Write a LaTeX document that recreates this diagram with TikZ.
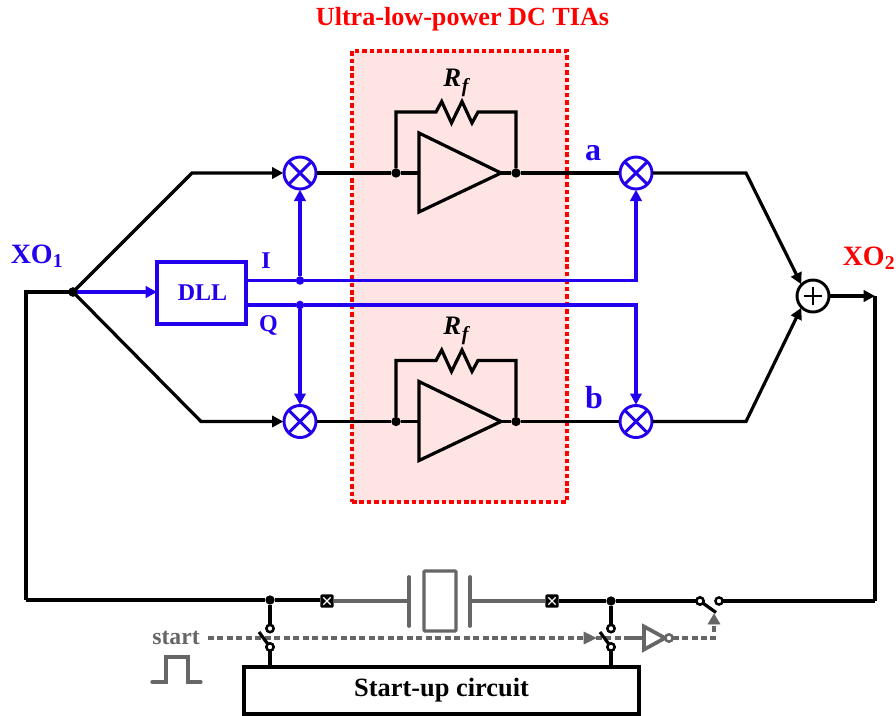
\documentclass[tikz,border=0pt]{standalone}
\usepackage{fontspec}
\setmainfont{Liberation Serif}
\usetikzlibrary{arrows.meta}
\definecolor{cblue}{HTML}{2200EE}
\definecolor{cred}{HTML}{FF0000}
\definecolor{cgray}{HTML}{666666}
\definecolor{cpink}{HTML}{FFE4E4}
\tikzset{
  wire/.style={line width=2.4pt,black,line join=miter},
  bwire/.style={line width=2.4pt,cblue},
  gwire/.style={line width=2.4pt,cgray},
  gdash/.style={line width=2.4pt,cgray,dash pattern=on 4.5pt off 2.6pt},
  tip/.style={-{Triangle[length=8.5pt,width=8.5pt]}},
  mixer/.style={circle,draw=cblue,line width=2.2pt,minimum size=24pt,inner sep=0pt,outer sep=0.5pt,fill=white,
    path picture={\draw[cblue,line width=2.2pt] (path picture bounding box.north west)--(path picture bounding box.south east)
      (path picture bounding box.north east)--(path picture bounding box.south west);}},
  adder/.style={circle,draw=black,line width=2.2pt,minimum size=24pt,inner sep=0pt,outer sep=0.5pt,fill=white,
    path picture={\draw[black,line width=1.5pt] ([xshift=-7pt]path picture bounding box.center)--([xshift=7pt]path picture bounding box.center)
      ([yshift=-7pt]path picture bounding box.center)--([yshift=7pt]path picture bounding box.center);}},
  dot/.style={circle,fill=black,minimum size=7pt,inner sep=0pt,outer sep=0pt},
  bdot/.style={circle,fill=cblue,minimum size=6.4pt,inner sep=0pt,outer sep=0pt},
  pin/.style={circle,draw=black,fill=white,line width=1.8pt,minimum size=5.4pt,inner sep=0pt,outer sep=0pt},
  gpin/.style={circle,draw=cgray,fill=white,line width=1.8pt,minimum size=5.4pt,inner sep=0pt,outer sep=0pt},
  term/.style={rectangle,rounded corners=1pt,fill=black,minimum size=10pt,inner sep=0pt,outer sep=0pt,
    path picture={\draw[white,line width=0.9pt] ([shift={(-2.8pt,-2.8pt)}]path picture bounding box.center)--([shift={(2.8pt,2.8pt)}]path picture bounding box.center)
      ([shift={(-2.8pt,2.8pt)}]path picture bounding box.center)--([shift={(2.8pt,-2.8pt)}]path picture bounding box.center);}},
  bluebox/.style={rectangle,draw=cblue,line width=2.4pt,inner sep=0pt,outer sep=0pt,text=cblue,font=\fontsize{18}{20}\selectfont\bfseries},
  bluelabel/.style={inner sep=0pt,text=cblue,font=\fontsize{18}{20}\selectfont\bfseries},
  biglabel/.style={inner sep=0pt,text=cblue,font=\fontsize{24}{26}\selectfont\bfseries},
  xolabel/.style={inner sep=0pt,font=\fontsize{21}{24}\selectfont\bfseries},
  rflabel/.style={inner sep=0pt,font=\fontsize{20}{22}\selectfont\bfseries\itshape},
}
\newcommand{\rfsub}{R\kern0.5pt\raisebox{-4pt}{\fontsize{15}{16}\selectfont f}}
\begin{document}
\begin{tikzpicture}[x=0.75pt,y=-0.75pt]
\useasboundingbox (0,0) rectangle (896,715);
% TIA region
\node[rectangle,draw=cred,fill=cpink,line width=2.4pt,dash pattern=on 3.4pt off 2.2pt,minimum width=161.25pt,minimum height=338.25pt,inner sep=0pt] (tia) at (459.5,276.5) {};
\node[inner sep=0pt,text=cred,font=\fontsize{19.6}{22}\selectfont\bfseries] (tiat) at (462.5,19) {Ultra-low-power DC TIAs};

% key nodes
\node[dot] (xo1) at (73,292) {};
\node[mixer] (m1) at (300,173) {};
\node[mixer] (m2) at (636,173) {};
\node[mixer] (m3) at (300,421.5) {};
\node[mixer] (m4) at (636,421.5) {};
\node[adder] (sum) at (813,296) {};
\node[bluebox,minimum width=66.75pt,minimum height=46.5pt,text width=66.75pt,align=center] (dll) at (201.5,293) {\hspace{1.5pt}DLL};

\coordinate (xl) at (26,292);
\coordinate (xb) at (26,600);
\coordinate (u1) at (192,173);
\coordinate (l1) at (201,421.5);
\coordinate (u2) at (746,173);
\coordinate (l2) at (746,421.5);
\coordinate (r1) at (875,296);
\coordinate (rb) at (875,601);

% input branches
\draw[wire] (xb)--(xl)--(xo1.center);
\draw[wire,tip] (xo1.center)--(u1)--(m1.west);
\draw[wire,tip] (xo1.center)--(l1)--(m3.west);
\draw[bwire,tip] (xo1.center)--(xo1 -| dll.west);
\node[dot] at (xo1) {};

% I / Q
\coordinate (ii) at (246,280.5);
\coordinate (iq) at (246,305);
\coordinate (ic) at (636,280.5);
\coordinate (qc) at (636,305);
\node[bdot] (di) at (300,280.5) {};
\node[bdot] (dq) at (300,305) {};
\draw[bwire] (ii)--(di);
\draw[bwire] (iq)--(dq);
\draw[bwire,tip] (di)--(ic)--(m2.south);
\draw[bwire,tip] (dq)--(qc)--(m4.north);
\draw[bwire,tip] (di)--(m1.south);
\draw[bwire,tip] (dq)--(m3.north);

% amplifiers
\foreach \n/\y/\ya/\yb/\yf in {1/173/133/212/112,2/421.5/381.5/460.5/360.5}{
  \coordinate (ai\n) at (419,\y);
  \coordinate (ao\n) at (501,\y);
  \coordinate (at\n) at (419,\ya);
  \coordinate (ab\n) at (419,\yb);
  \node[dot] (din\n) at (396,\y) {};
  \node[dot] (dout\n) at (516,\y) {};
  \draw[wire] (ao\n)--(at\n)--(ab\n)--cycle;
  \draw[wire] (din\n)--(396,\yf)--(428,\yf)--(436,\yf)--(441.7,\yf-10.5)--(451.5,\yf+11)--(462,\yf-10.5)--(472,\yf+11)--(478,\yf)--(516,\yf)--(dout\n);
  \draw[wire] (din\n)--(ai\n);
  \draw[wire] (ao\n)--(dout\n);
}
\draw[wire] (m1.east)--(din1);
\draw[wire] (m3.east)--(din2);
\draw[wire] (dout1)--(m2.west);
\draw[wire] (dout2)--(m4.west);

% output
\draw[wire,tip] (m2.east)--(u2)--(sum.north west);
\draw[wire,tip] (m4.east)--(l2)--(sum.south west);
\draw[wire,tip] (sum.east)--(r1);
\draw[wire] (r1)--(rb);

% bottom line
\node[dot] (j1) at (270,600) {};
\node[dot] (j2) at (611,601) {};
\node[term] (t1) at (327,601) {};
\node[term] (t2) at (552,601) {};
\node[pin] (s3a) at (700,601) {};
\node[pin] (s3b) at (719,601) {};
\coordinate (p1) at (409,601);
\coordinate (p2) at (470,601);
\draw[wire] (xb)--(j1);
\draw[wire] (j1)--(j1 -| t1.west);
\draw[wire] (t2)--(j2);
\draw[wire] (j2)--(s3a);
\draw[wire] (s3b)--(rb);
\draw[gwire] (t1)--(p1);
\draw[gwire] (p2)--(t2);
\draw[gwire,line width=2.8pt,line cap=round] (409,577)--(409,626);
\draw[gwire,line width=2.8pt,line cap=round] (470,577)--(470,626);
\node[rectangle,draw=cgray,line width=2.5pt,rounded corners=0.8pt,minimum width=24pt,minimum height=45pt,inner sep=0pt] (xtal) at (440,601) {};

% start-up box
\node[rectangle,draw=black,line width=2.4pt,minimum width=296.25pt,minimum height=35.25pt,inner sep=0pt,outer sep=0pt,font=\fontsize{19.8}{22}\selectfont\bfseries] (su) at (441.5,690.5) {Start-up circuit};

% start dashed line
\coordinate (ds) at (208,638);
\coordinate (dk) at (714,638);
\node[gpin] (invb) at (669,638) {};
\coordinate (invi) at (644,638);
\coordinate (invt) at (644,626.5);
\coordinate (invd) at (644,649.5);
\coordinate (invo) at (665,638);
\draw[gdash] (ds)--(590,638);
\draw[cgray,fill=cgray] (584,632)--(596,638)--(584,644)--cycle;
\draw[gdash] (596,638)--(630,638);
\draw[gwire] (630,638)--(invi);
\draw[gwire,line width=2.8pt,line join=miter] (invo)--(invt)--(invd)--cycle;
\node[gpin] at (invb) {};
\draw[gdash] (invb)--(dk)--(714,622);
\draw[cgray,fill=cgray] (708,624)--(714,614)--(720,624)--cycle;

% start-up switches
\foreach \n/\j/\x in {a/j1/270,b/j2/611}{
  \node[pin] (s\n t) at (\x,628.5) {};
  \node[pin] (s\n b) at (\x,647) {};
  \draw[wire] (\j)--(s\n t);
  \draw[wire] (s\n b)--(\x,667);
  \draw[wire] (\x-11,632)--(s\n b);
  \node[pin] at (\x,647) {};
  \node[pin] at (\x,628.5) {};
}
\draw[wire] (s3a)--(716,612.5);
\node[pin] at (700,601) {};

% pulse
\draw[gwire,line cap=round] (152,682)--(166,682)--(166,657)--(188,657)--(188,682)--(201,682);

% labels
\node[inner sep=0pt,text=cgray,font=\fontsize{17.8}{20}\selectfont\bfseries] (startl) at (176,638) {start};
\node[xolabel,text=cblue] (xo1l) at (37,256) {XO\textsubscript{1}};
\node[xolabel,text=cred] (xo2l) at (869,258) {XO\textsubscript{2}};
\node[bluelabel] (il) at (266,261) {I};
\node[bluelabel] (ql) at (268.5,325) {Q};
\node[biglabel] (la) at (593,153) {a};
\node[biglabel] (lb) at (594,398) {b};
\node[rflabel] (rf1) at (456,83) {\rfsub};
\node[rflabel] (rf2) at (456,331) {\rfsub};
\end{tikzpicture}
\end{document}
